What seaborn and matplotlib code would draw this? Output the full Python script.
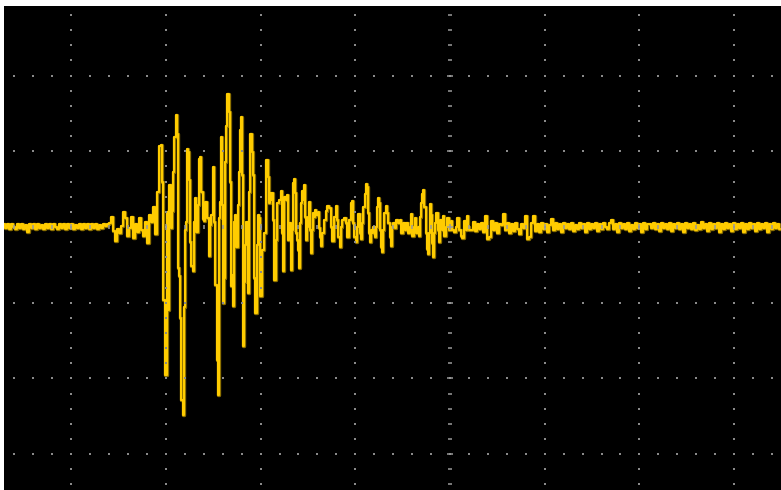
import numpy as np
import pandas as pd
import matplotlib
matplotlib.use("Agg")
import matplotlib.pyplot as plt
import seaborn as sns

# ---- acquisition settings -------------------------------------------------
# Horizontal: one sample per display column, 94.7 samples per division.
SAMPLES_PER_DIV = 94.7
TRIGGER_SAMPLE = 450          # sample on the centre graticule line
WINDOW = (4, 781)             # samples visible on screen
# Vertical: ADC counts, 75.7 counts per division, zero on the centre line.
COUNTS_PER_DIV = 75.7
RANGE = (-263, 221)           # counts visible on screen

# ---- recorded trace --------------------------------------------------------
# Quiet record before the event, every 2nd sample starting at sample 4.
PRE_START, NOISE_STEP = 4, 2
pre_noise = [3, -1, 3, -2, 3, 0, -2, 3, -1, 3,
             -2, 2, -5, 3, -1, 3, -2, 3, -1, 2,
             -2, 3, -1, 3, -2, 3, 0, -2, 3, -1,
             3, -2, 3, -1, 3, -2, 2, -1, 3, -2,
             3, -1, 3, -2, 3, -1, 3, -2, 2, -1,
             3]

# The event: turning points of the trace as (sample, counts).
event_turns = [
    (106, 1), (108, 3), (110, 4), (112, 10), (114, -4), (116, -14), (118, -2), (120, -6), (122, 1), (124, 15),
    (126, 9), (128, -9), (130, -1), (132, 10), (134, -11), (136, 3), (138, -5), (140, 9), (142, -3), (144, -9),
    (146, 5), (148, -16), (150, 12), (152, 5), (154, 20), (156, -7), (158, 35), (160, 81), (161, 82), (162, 45),
    (164, -73), (166, -148), (167, 15), (168, -83), (170, 42), (171, -1), (172, 16), (173, 55), (175, 90), (176, 112),
    (177, 93), (178, -41), (179, -49), (180, -91), (182, -173), (183, -188), (184, -80), (185, -3), (186, 5), (187, 78),
    (188, 75), (189, 47), (190, -15), (192, -39), (193, -44), (194, 5), (195, 29), (197, -5), (198, 22), (199, 68),
    (200, 70), (202, 35), (203, 8), (204, 6), (206, 25), (208, 9), (209, -29), (210, 2), (212, 12), (213, 60),
    (214, 5), (216, -58), (217, -133), (218, -168), (219, 9), (220, 25), (221, 90), (222, 22), (223, -76), (224, -51),
    (225, 65), (226, 101), (227, 133), (228, 133), (229, 115), (230, 45), (231, -59), (232, -48), (233, -79), (234, 5),
    (235, 12), (237, -20), (238, 22), (239, 55), (240, 97), (241, 110), (242, 52), (243, -119), (244, -55), (245, -18),
    (247, 5), (248, -66), (249, 35), (251, 93), (252, 75), (253, 52), (254, -51), (256, -86), (257, -18), (258, 12),
    (259, 9), (261, -69), (263, -23), (265, -6), (267, 67), (268, 50), (269, 24), (270, 34), (271, 27), (272, 34),
    (273, 7), (275, -53), (276, -13), (278, 24), (280, 27), (281, 36), (282, -6), (283, -44), (285, 30), (286, 27),
    (287, 32), (288, -13), (290, 4), (291, -43), (292, -3), (293, 44), (294, 48), (295, 34), (296, -6), (297, -13),
    (298, -23), (299, -41), (300, 4), (301, 24), (302, 36), (303, 27), (304, 42), (305, 10), (306, -13), (307, 0),
    (308, 10), (309, 25), (310, -3), (311, -26), (312, -3), (313, 14), (314, 10), (315, 17), (317, 12), (318, 15),
    (319, -1), (320, -10), (321, -19), (323, -6), (325, 7), (326, 16), (328, 21), (330, 19), (331, 0), (333, -14),
    (335, 10), (336, 21), (337, 7), (339, -10), (340, -20), (341, 0), (343, 7), (345, 9), (346, 4), (348, -10),
    (350, 7), (351, 24), (352, 26), (353, 4), (355, -10), (356, -15), (357, 0), (359, 13), (360, -6), (361, -12),
    (362, 4), (364, 20), (365, 33), (366, 43), (367, 40), (368, 14), (369, -6), (370, -15), (371, -3), (372, -6),
    (374, 0), (375, -10), (376, 0), (377, 20), (378, 29), (379, 24), (380, -3), (381, -20), (382, -25), (383, -3),
    (385, 14), (386, 21), (387, 14), (389, 4), (390, -10), (391, -19), (392, 0), (394, 4), (395, -1), (397, 7),
    (399, 4), (400, 7), (402, -6), (404, 4), (405, -3), (407, 4), (409, -6), (410, 0), (411, 13), (413, -9),
    (414, 0), (415, 9), (417, -6), (418, 0), (419, -9), (420, 10), (421, 24), (422, 33), (423, 37), (425, 20),
    (426, -6), (427, -22), (428, -27), (429, -6), (430, 23), (431, 12), (432, -16), (433, -30), (434, -6), (435, 4),
    (437, 14), (438, -3), (439, -15), (441, 7), (442, -3), (443, 11), (445, -9), (446, 0), (448, 9), (450, -3),
    (451, 6), (453, -3), (455, -5), (456, 0), (458, 9), (460, -3), (461, -9), (463, -11), (465, 6), (466, -3),
    (467, 11), (468, 0), (470, -3),
]

# Coda after the event, every 2nd sample starting at sample 472.
CODA_START = 472
coda_noise = [-3, 5, -4, 3, -2, 4, -5, 11, -12, -10,
              6, -3, 4, -6, 3, 2, 13, -3, 4, -6,
              3, -4, 4, -2, -7, 3, -1, 11, -12, -10,
              4, 11, -4, 3, -5, 4, -2, 3, -5, 2,
              8, -3, 4, -2, 3, -5, 4, -1, 3, -2,
              4, -4, 2, -2, 4, -1, 3, -5, 4, -2,
              3, -1, 4, -4, 3, -2, 4, 0, -2, 4,
              7, -2, 3, -5, 4, -1, 3, -2, 4, -4,
              2, -2, 4, -1, 3, -5, 4, -2, 3, 3,
              -1, 4, -2, 3, -4, 4, -1, 3, -2, 4,
              -4, 3, -1, 4, -2, 3, -5, 4, -1, 3,
              -2, 4, -3, 2, -2, 5, -1, 3, -4, 4,
              -2, 3, -1, 4, -5, 3, -2, 4, -1, 3,
              -4, 4, -2, 3, -1, 4, -5, 3, -2, 4,
              -1, 3, -4, 4, -2, 3, -1, 4, -5, 3,
              -2, 4, -1, 3, -2]

# ---- assemble the record -----------------------------------------------------
pre_s = PRE_START + NOISE_STEP * np.arange(len(pre_noise))
ev_s = np.array([p[0] for p in event_turns])
ev_v = np.array([p[1] for p in event_turns])
coda_s = CODA_START + NOISE_STEP * np.arange(len(coda_noise))

samples = np.concatenate([pre_s, ev_s, coda_s])
counts = np.concatenate([pre_noise, ev_v, coda_noise]).astype(float)

trace = pd.DataFrame({
    "time_div": (samples - TRIGGER_SAMPLE) / SAMPLES_PER_DIV,
    "volts_div": counts / COUNTS_PER_DIV,
})

# ---- draw -----------------------------------------------------------------
sns.set_theme(style="dark")
W, H = 781, 490
fig = plt.figure(figsize=(W / 100, H / 100), dpi=100, facecolor="white")
ax = fig.add_axes([4 / W, 0, (W - 4) / W, (H - 6) / H])
ax.set_facecolor("black")

# phosphor trace: dim halo under a bright core, sample-and-hold look
trace_kw = dict(data=trace, x="time_div", y="volts_div", sort=False, estimator=None,
                drawstyle="steps-mid", ax=ax)
sns.lineplot(color="#8c7000", linewidth=2.4, zorder=2, **trace_kw)
sns.lineplot(color="#FFCC00", linewidth=1.5, zorder=2.1, **trace_kw)

x_lo = (WINDOW[0] - TRIGGER_SAMPLE) / SAMPLES_PER_DIV
x_hi = (WINDOW[1] - TRIGGER_SAMPLE) / SAMPLES_PER_DIV
y_lo = RANGE[0] / COUNTS_PER_DIV
y_hi = RANGE[1] / COUNTS_PER_DIV

# graticule: dotted major lines, ticked centre axes
minor = 0.2
xs_minor = np.round(np.arange(np.ceil(x_lo / minor) * minor, x_hi, minor), 3)
ys_minor = np.round(np.arange(np.ceil(y_lo / minor) * minor, y_hi, minor), 3)
major_x = [k for k in range(int(np.ceil(x_lo)), int(np.floor(x_hi)) + 1) if k != 0]
major_y = [k for k in range(int(np.ceil(y_lo)), int(np.floor(y_hi)) + 1) if k != 0]

dot_kw = dict(marker="s", s=1.6, color="#8a8a8a", linewidths=0, zorder=3)
for xm in major_x:
    ax.scatter(np.full_like(ys_minor, xm), ys_minor, **dot_kw)
for ym in major_y:
    ax.scatter(xs_minor, np.full_like(xs_minor, ym), **dot_kw)

is_major_y = np.isclose(ys_minor, np.round(ys_minor))
ax.plot(np.zeros(int((~is_major_y).sum())), ys_minor[~is_major_y], ls="none",
        marker="_", ms=3.0, mew=1.1, color="#9a9a9a", zorder=3)
ax.plot(np.zeros(int(is_major_y.sum())), ys_minor[is_major_y], ls="none",
        marker="_", ms=5.0, mew=1.1, color="#9a9a9a", zorder=3)

is_major_x = np.isclose(xs_minor, np.round(xs_minor))
ax.plot(xs_minor[~is_major_x], np.zeros(int((~is_major_x).sum())), ls="none",
        marker="|", ms=3.0, mew=1.1, color="#9a9a9a", zorder=3)
ax.plot(xs_minor[is_major_x], np.zeros(int(is_major_x.sum())), ls="none",
        marker="|", ms=5.0, mew=1.1, color="#9a9a9a", zorder=3)

ax.set_xlim(x_lo, x_hi)
ax.set_ylim(y_lo, y_hi)
ax.set_xlabel("")
ax.set_ylabel("")
ax.set_xticks([])
ax.set_yticks([])
ax.grid(False)
for sp in ax.spines.values():
    sp.set_visible(False)

fig.savefig("out.png", dpi=100, facecolor="white")
